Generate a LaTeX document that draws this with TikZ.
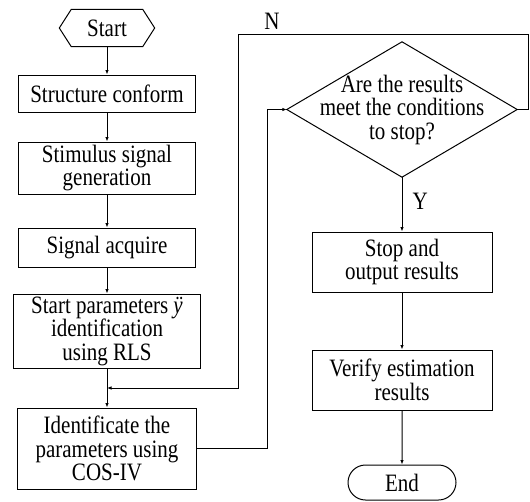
\documentclass[tikz,border=0pt]{standalone}
\usepackage{fontspec}
\setmainfont{Liberation Serif}[FakeStretch=0.84]
\usetikzlibrary{arrows.meta,shapes.misc}
\begin{document}
\begin{tikzpicture}[x=1pt,y=-1pt,
  every node/.style={font=\fontsize{25}{23.5}\selectfont, align=center, inner sep=0pt},
  box/.style={draw, line width=1pt, rectangle},
  ln/.style={line width=1pt},
  conn/.style={line width=1pt, -{Latex[length=4.5pt,width=3.5pt]}}]
\useasboundingbox (0,0) rectangle (530,501);
% start
\node[minimum width=95pt, minimum height=37pt] (start) at (107,28) {Start};
\draw[ln] (start.west) -- ([xshift=12pt]start.north west) -- ([xshift=-12pt]start.north east) -- (start.east) -- ([xshift=-12pt]start.south east) -- ([xshift=12pt]start.south west) -- cycle;
% left column
\node[box, minimum width=177pt, minimum height=37pt] (conf) at (107,93.5) {Structure conform};
\node[box, minimum width=177pt, minimum height=52pt] (stim) at (107,168) {Stimulus signal\\generation};
\node[box, minimum width=177pt, minimum height=39pt] (sig) at (107,247.5) {Signal acquire};
\node[box, minimum width=187pt, minimum height=74pt] (rls) at (107,331) {Start parameters {\itshape ÿ}\\identification\\using RLS};
\node[box, minimum width=179pt, minimum height=81pt] (cos) at (107,448.5) {Identificate the\\parameters using\\COS-IV};
% right column
\node[minimum width=230pt, minimum height=135pt] (dec) at (402,109.5) {Are the results\\meet the conditions\\to stop?};
\draw[ln] (dec.north) -- (dec.east) -- (dec.south) -- (dec.west) -- cycle;
\node[box, minimum width=180pt, minimum height=60pt] (stop) at (402,262) {Stop and\\output results};
\node[box, minimum width=180pt, minimum height=60pt] (ver) at (402,380) {Verify estimation\\results};
\node[draw, rounded rectangle, line width=1pt, minimum width=108pt, minimum height=35pt] (end) at (402,482.5) {End};
% labels
\node (nlab) at (272,21) {N};
% connectors
\draw[conn] (start) -- (conf);
\draw[conn] (conf) -- (stim);
\draw[conn] (stim) -- (sig);
\draw[conn] (sig) -- (rls);
\draw[conn] (rls) -- (cos);
\coordinate (m) at (107,388);
\coordinate (tr) at (528,34);
\coordinate (tl) at (238,34);
\draw[conn] (dec.east) -| (tr) -- (tl) |- (m);
\coordinate (bl) at (267,109.5);
\draw[conn] (cos.east) -| (bl) -- (dec.west);
\draw[conn] (dec.south) -- node[right=10pt, pos=0.45] (ylab) {Y} (stop.north);
\draw[conn] (stop) -- (ver);
\draw[conn] (ver) -- (end);
\end{tikzpicture}
\end{document}
